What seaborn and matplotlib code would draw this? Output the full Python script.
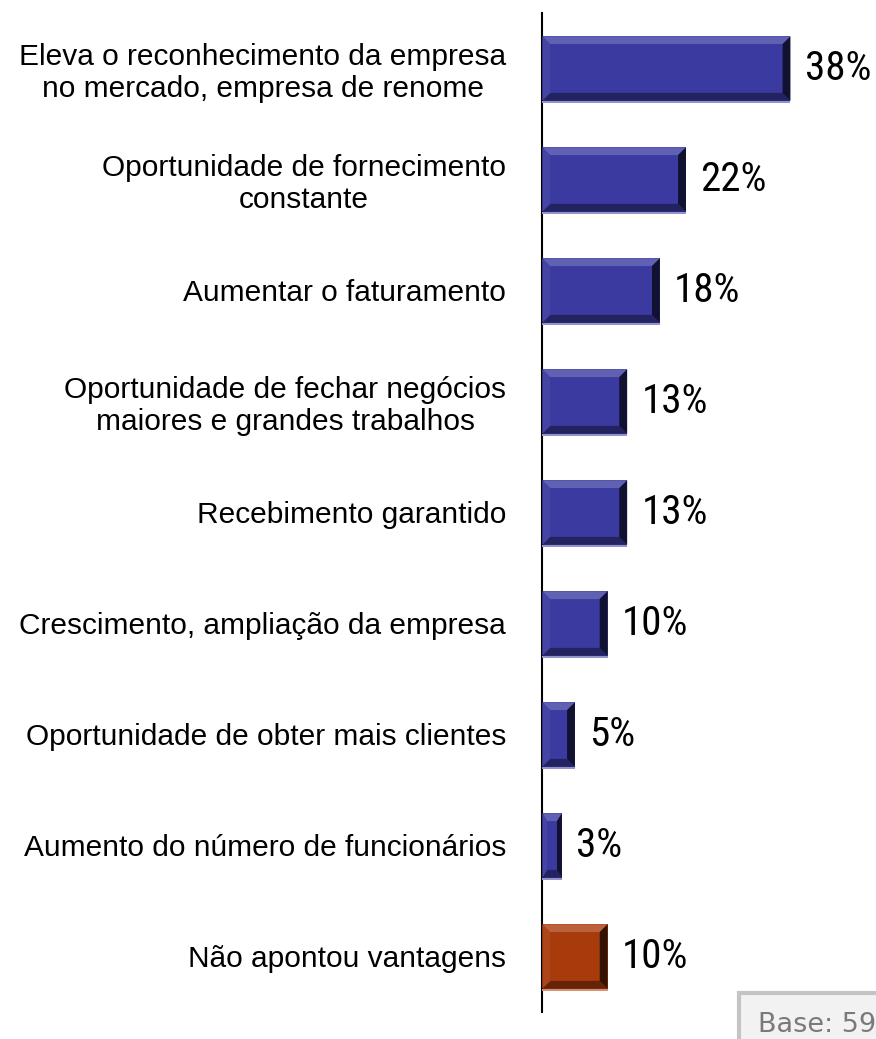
import matplotlib
matplotlib.use("Agg")
import matplotlib.pyplot as plt
import matplotlib.patches as mpatches
import pandas as pd
import seaborn as sns

categories = [
    "Eleva o reconhecimento da empresa\nno mercado, empresa de renome",
    "Oportunidade de fornecimento\nconstante",
    "Aumentar o faturamento",
    "Oportunidade de fechar negócios\nmaiores e grandes trabalhos",
    "Recebimento garantido",
    "Crescimento, ampliação da empresa",
    "Oportunidade de obter mais clientes",
    "Aumento do número de funcionários",
    "Não apontou vantagens",
]
values = [38, 22, 18, 13, 13, 10, 5, 3, 10]
groups = ["vantagem"] * 8 + ["nenhuma"]
palette = {"vantagem": "#3a3aa0", "nenhuma": "#a83b0b"}
base_text = "Base: 59"

LABEL_FONTS = ["Liberation Sans", "DejaVu Sans"]
PCT_FONTS = ["Roboto Condensed", "Liberation Sans", "DejaVu Sans"]

sns.set_style("white")
plt.rcParams["font.family"] = LABEL_FONTS
plt.rcParams["text.color"] = "black"
plt.rcParams["ytick.color"] = "black"
plt.rcParams["ytick.labelcolor"] = "black"

df = pd.DataFrame({"cat": categories, "val": values, "grp": groups})

fig = plt.figure(figsize=(8.76, 10.39), dpi=100)
ax = fig.add_axes([0.619, 0.026, 0.381, 0.9615])

sns.barplot(data=df, x="val", y="cat", hue="grp", palette=palette, saturation=1,
            dodge=False, width=0.58, legend=False, ax=ax,
            edgecolor="none", linewidth=0)


def shade(fc, k):
    if k >= 1:
        return tuple(min(1, c + (1 - c) * (k - 1)) for c in fc[:3])
    return tuple(c * k for c in fc[:3])


# bevel look, built from each bar's own geometry
for p in list(ax.patches):
    x0, y0 = p.get_x(), p.get_y()
    w, h = p.get_width(), p.get_height()
    if w <= 0:
        continue
    fc = p.get_facecolor()
    dx = min(1.2, w / 4)
    dy = 0.07
    x1, y1 = x0 + w, y0 + h
    # top (y0 is top because y axis inverted)
    ax.add_patch(mpatches.Polygon([(x0, y0), (x1, y0), (x1 - dx, y0 + dy), (x0 + dx, y0 + dy)],
                                  closed=True, color=shade(fc, 1.2), lw=0, zorder=3))
    ax.add_patch(mpatches.Polygon([(x0, y1), (x1, y1), (x1 - dx, y1 - dy), (x0 + dx, y1 - dy)],
                                  closed=True, color=shade(fc, 0.6), lw=0, zorder=3))
    ax.add_patch(mpatches.Polygon([(x0, y0), (x0 + dx, y0 + dy), (x0 + dx, y1 - dy), (x0, y1)],
                                  closed=True, color=shade(fc, 1.05), lw=0, zorder=3))
    ax.add_patch(mpatches.Polygon([(x1, y0), (x1 - dx, y0 + dy), (x1 - dx, y1 - dy), (x1, y1)],
                                  closed=True, color=shade(fc, 0.3), lw=0, zorder=3))
    ax.add_patch(mpatches.Rectangle((x0, y1), w, 0.02, color=shade(fc, 1.45), lw=0, zorder=3))

for i, v in enumerate(values):
    ax.text(v + 2.2, i, f"{v}%", va="center", ha="left", fontsize=29.5, color="black",
            family=PCT_FONTS, fontweight="normal")

ax.set_xlim(0, 51.1)
ax.set_ylim(len(categories) - 0.5, -0.5)
ax.set_xlabel("")
ax.set_ylabel("")
ax.set_xticks([])
ax.set_yticks(range(len(categories)))
ax.set_yticklabels(categories, fontsize=21.5, ha="right", ma="center", linespacing=1.15)
ax.tick_params(axis="y", which="major", length=0, pad=26)
ax.set_yticks([i + 0.5 for i in range(len(categories) - 1)], minor=True)
ax.tick_params(axis="y", which="minor", length=10, width=1.5, direction="out", color="black")
for s in ["top", "right", "bottom"]:
    ax.spines[s].set_visible(False)
ax.spines["left"].set_linewidth(1.5)
ax.spines["left"].set_color("black")

fig.text(0.8653, 0.0067, base_text, fontsize=19.5, color="#7a7a7a", family="DejaVu Sans",
         ha="left", va="baseline",
         bbox=dict(boxstyle="square,pad=0.7", fc="#f2f2f2", ec="#c4c4c4", lw=3))

fig.savefig("out.png", dpi=100)
